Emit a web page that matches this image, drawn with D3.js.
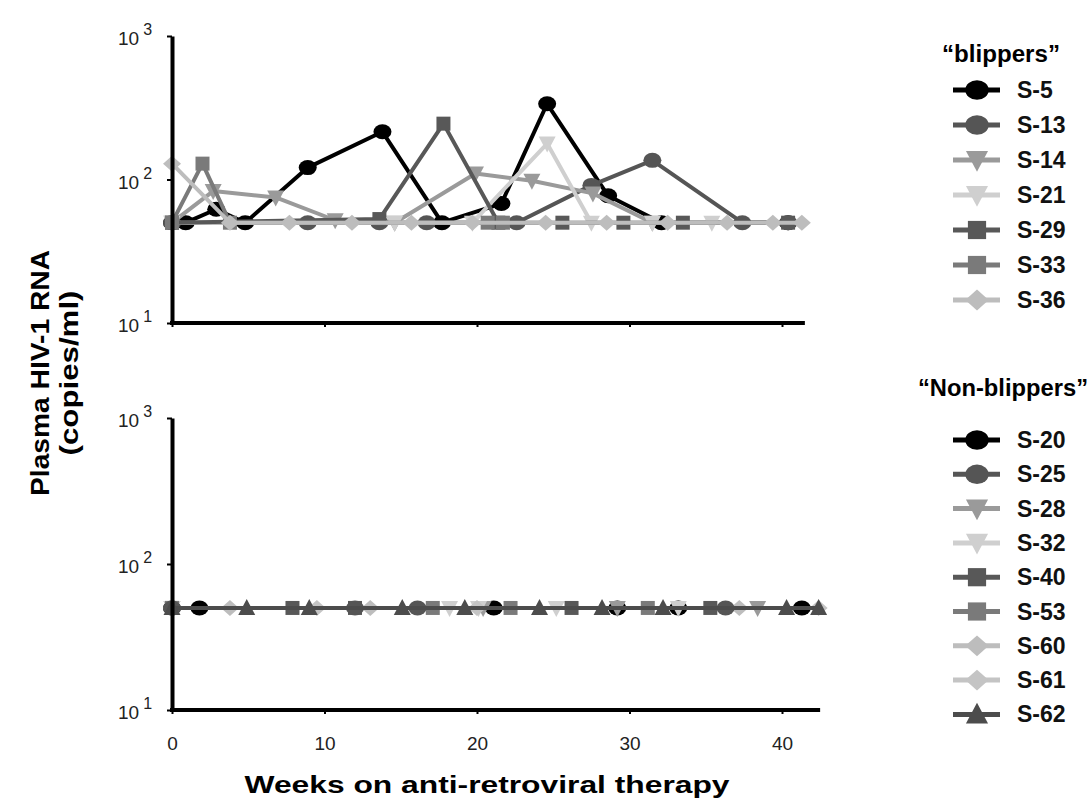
<!DOCTYPE html>
<html>
<head>
<meta charset="utf-8">
<script src="https://cdn.jsdelivr.net/npm/d3@7"></script>
<style>
  html, body { margin: 0; padding: 0; background: #fff; }
  svg { display: block; font-family: "Liberation Sans", Arial, sans-serif; }
</style>
</head>
<body>
<div id="chart"></div>
<script>
// Plasma HIV-1 RNA, blippers vs non-blippers (two log panels, shared x)

const weekTicks = [0, 10, 20, 30, 40]
const decadeTicks = [10, 100, 1000]

// --- Blippers: [week, copies/ml] ---
const blipperNames = ["S-5", "S-13", "S-14", "S-21", "S-29", "S-33", "S-36"]
const s5 = [[0, 50], [0.9, 50], [2.9, 62], [4.8, 50], [8.9, 121], [13.8, 215], [17.7, 50], [21.6, 68], [24.6, 337], [28.6, 77], [32.1, 50], [40.4, 50]]
const s13 = [[0, 50], [8.9, 50], [13.6, 50], [16.7, 50], [22.6, 50], [27.5, 91], [31.5, 136], [37.4, 50], [40.4, 50]]
const s14 = [[0, 50], [2.7, 83], [6.8, 75], [10.7, 52], [14.6, 50], [19.9, 110], [23.6, 98], [27.6, 80], [31.5, 50]]
const s21 = [[0, 50], [14.6, 50], [19.7, 50], [24.6, 178], [27.5, 50], [31.5, 50], [35.4, 50]]
const s29 = [[0, 50], [13.6, 53], [17.8, 245], [21.4, 50], [25.6, 50], [29.6, 50], [33.5, 50], [40.4, 50]]
const s33 = [[0, 50], [2, 129], [3.8, 50], [20.7, 50], [21.7, 50]]
const s36 = [[0, 129], [3.8, 50], [7.7, 50], [11.8, 50], [15.7, 50], [19.7, 50], [24.5, 50], [28.5, 50], [32.5, 50], [36.4, 50], [39.4, 50], [41.3, 50]]

// --- Non-blippers: all at the detection limit (50 copies/ml) ---
const nonBlipperNames = ["S-20", "S-25", "S-28", "S-32", "S-40", "S-53", "S-60", "S-61", "S-62"]
const s20Weeks = [0, 1.8, 21.1, 29.2, 33.2, 41.3]
const s25Weeks = [0, 12, 16.1, 36.3]
const s28Weeks = [0, 20.4, 29.2, 38.4]
const s32Weeks = [0, 18.2, 20.1, 25.2, 33.2]
const s40Weeks = [0, 7.9, 12, 26.2, 35.3]
const s53Weeks = [0, 17.1, 22.2, 31.2]
const s60Weeks = [0, 3.8, 13, 37.2]
const s61Weeks = [0, 9.5, 20, 42.4]
const s62Weeks = [0, 4.9, 9, 15.1, 19.2, 24.1, 28.2, 32.2, 40.3, 42.4]
const limitValue = 50

// styles per series (colour + marker)
const style = {
  "S-5": { c: "#000000", m: "circle" },
  "S-13": { c: "#555555", m: "circle" },
  "S-14": { c: "#9a9a9a", m: "down" },
  "S-21": { c: "#cfcfcf", m: "down" },
  "S-29": { c: "#585858", m: "square" },
  "S-33": { c: "#7a7a7a", m: "square" },
  "S-36": { c: "#bdbdbd", m: "diamond" },
  "S-20": { c: "#000000", m: "circle" },
  "S-25": { c: "#555555", m: "circle" },
  "S-28": { c: "#9a9a9a", m: "down" },
  "S-32": { c: "#cfcfcf", m: "down" },
  "S-40": { c: "#585858", m: "square" },
  "S-53": { c: "#7a7a7a", m: "square" },
  "S-60": { c: "#bdbdbd", m: "diamond" },
  "S-61": { c: "#c4c4c4", m: "diamond" },
  "S-62": { c: "#4c4c4c", m: "up" },
}

const blipperData = { "S-5": s5, "S-13": s13, "S-14": s14, "S-21": s21, "S-29": s29, "S-33": s33, "S-36": s36 }
const nonWeeks = { "S-20": s20Weeks, "S-25": s25Weeks, "S-28": s28Weeks, "S-32": s32Weeks, "S-40": s40Weeks, "S-53": s53Weeks, "S-60": s60Weeks, "S-61": s61Weeks, "S-62": s62Weeks }
const nonBlipperData = {}
nonBlipperNames.forEach(n => { nonBlipperData[n] = nonWeeks[n].map(w => [w, limitValue]) })

const W = 1090, H = 801
const svg = d3.select("#chart").append("svg").attr("width", W).attr("height", H)

const x = d3.scaleLinear().domain([0, 40]).range([172, 782])
const yTop = d3.scaleLog().domain([10, 1000]).range([323, 36])
const yBot = d3.scaleLog().domain([10, 1000]).range([710, 418])

// marker path, centred on 0,0 ; k = scale
function markerPath(m, k) {
  if (m === "circle") {
    const rx = 9 * k, ry = 7.5 * k
    return `M ${-rx} 0 A ${rx} ${ry} 0 1 0 ${rx} 0 A ${rx} ${ry} 0 1 0 ${-rx} 0 Z`
  }
  if (m === "square") { const s = 7 * k; return `M ${-s} ${-s} H ${s} V ${s} H ${-s} Z` }
  if (m === "down") { const w = 8.5 * k, h = 7 * k; return `M ${-w} ${-h} H ${w} L 0 ${h + 2 * k} Z` }
  if (m === "up") { const w = 8.5 * k, h = 7 * k; return `M ${-w} ${h} H ${w} L 0 ${-h - 2 * k} Z` }
  if (m === "diamond") { const w = 9 * k, h = 8 * k; return `M 0 ${-h} L ${w} 0 L 0 ${h} L ${-w} 0 Z` }
}

function drawPanel(y, names, dataMap, xEnd, showLabels) {
  const g = svg.append("g")
  const line = d3.line().x(d => x(d[0])).y(d => y(d[1]))

  names.forEach(n => {
    const st = style[n]
    const sg = g.append("g")
    sg.append("path").datum(dataMap[n])
      .attr("d", line).attr("fill", "none")
      .attr("stroke", st.c).attr("stroke-width", 4).attr("stroke-linejoin", "round")
    sg.selectAll("path.mk").data(dataMap[n]).join("path")
      .attr("class", "mk")
      .attr("transform", d => `translate(${x(d[0])},${y(d[1])})`)
      .attr("d", markerPath(st.m, 1))
      .attr("fill", st.c)
  })

  // y axis
  const ya = g.append("g").attr("transform", `translate(${x(0)},0)`)
    .call(d3.axisLeft(y).tickValues(decadeTicks).tickFormat("").tickSizeInner(5).tickSizeOuter(0))
  ya.select(".domain").attr("stroke-width", 4)
  ya.selectAll(".tick line").attr("stroke-width", 2)

  // decade labels 10^n
  decadeTicks.forEach(v => {
    const t = g.append("text")
      .attr("x", x(0) - 54).attr("y", y(v) + 9)
      .attr("font-size", 19).attr("fill", "#222")
    t.append("tspan").text("10")
    t.append("tspan").attr("dx", 4).attr("dy", -10).attr("font-size", 16).text(Math.log10(v))
  })

  // x axis
  const xa = g.append("g").attr("transform", `translate(0,${y(10)})`)
    .call(d3.axisBottom(x).tickValues(weekTicks).tickSizeInner(4).tickSizeOuter(0)
      .tickFormat(showLabels ? d3.format("d") : ""))
  xa.select(".domain").attr("d", `M${x(0) - 2},0H${x(xEnd)}`).attr("stroke-width", 4)
  xa.selectAll(".tick line").attr("stroke-width", 2)
  xa.selectAll(".tick text").attr("font-size", 19).attr("fill", "#222").attr("dy", "1.75em")
    .attr("font-family", "\"Liberation Sans\", Arial, sans-serif")
}

drawPanel(yTop, blipperNames, blipperData, 41.5, false)
// bottom panel: dark line drawn last so baseline reads dark grey
drawPanel(yBot, ["S-20", "S-28", "S-32", "S-40", "S-53", "S-60", "S-61", "S-25", "S-62"], nonBlipperData, 42.5, true)

// --- Legends ---
function drawLegend(title, titleX, titleY, titleLen, names, y0, step) {
  const lg = svg.append("g")
  lg.append("text").attr("x", titleX).attr("y", titleY).attr("text-anchor", "middle")
    .attr("font-size", 23).attr("font-weight", "bold")
    .attr("textLength", titleLen).attr("lengthAdjust", "spacingAndGlyphs").text(title)
  names.forEach((n, i) => {
    const st = style[n]
    const cy = y0 + i * step
    lg.append("line").attr("x1", 953).attr("x2", 1000).attr("y1", cy).attr("y2", cy)
      .attr("stroke", st.c).attr("stroke-width", 5)
    lg.append("path").attr("transform", `translate(977,${cy})`)
      .attr("d", markerPath(st.m, 1.3)).attr("fill", st.c)
    lg.append("text").attr("x", 1017).attr("y", cy + 8).attr("font-size", 23)
      .attr("font-weight", "bold").attr("fill", "#111").text(n)
  })
}
drawLegend("\u201cblippers\u201d", 1001, 62, 118, blipperNames, 90, 35)
drawLegend("\u201cNon-blippers\u201d", 1003, 396, 170, nonBlipperNames, 440, 34.3)

// --- Axis titles (condensed look: stretched to reference length) ---
svg.append("text")
  .attr("transform", `translate(49,373) rotate(-90)`)
  .attr("text-anchor", "middle").attr("font-size", 26).attr("font-weight", "bold")
  .attr("textLength", 246).attr("lengthAdjust", "spacingAndGlyphs")
  .text("Plasma HIV-1 RNA")
svg.append("text")
  .attr("transform", `translate(78,373) rotate(-90)`)
  .attr("text-anchor", "middle").attr("font-size", 26).attr("font-weight", "bold")
  .attr("textLength", 165).attr("lengthAdjust", "spacingAndGlyphs")
  .text("(copies/ml)")
svg.append("text")
  .attr("x", 487).attr("y", 793).attr("text-anchor", "middle")
  .attr("font-size", 24).attr("font-weight", "bold")
  .attr("textLength", 485).attr("lengthAdjust", "spacingAndGlyphs")
  .text("Weeks on anti-retroviral therapy")
</script>
</body>
</html>
